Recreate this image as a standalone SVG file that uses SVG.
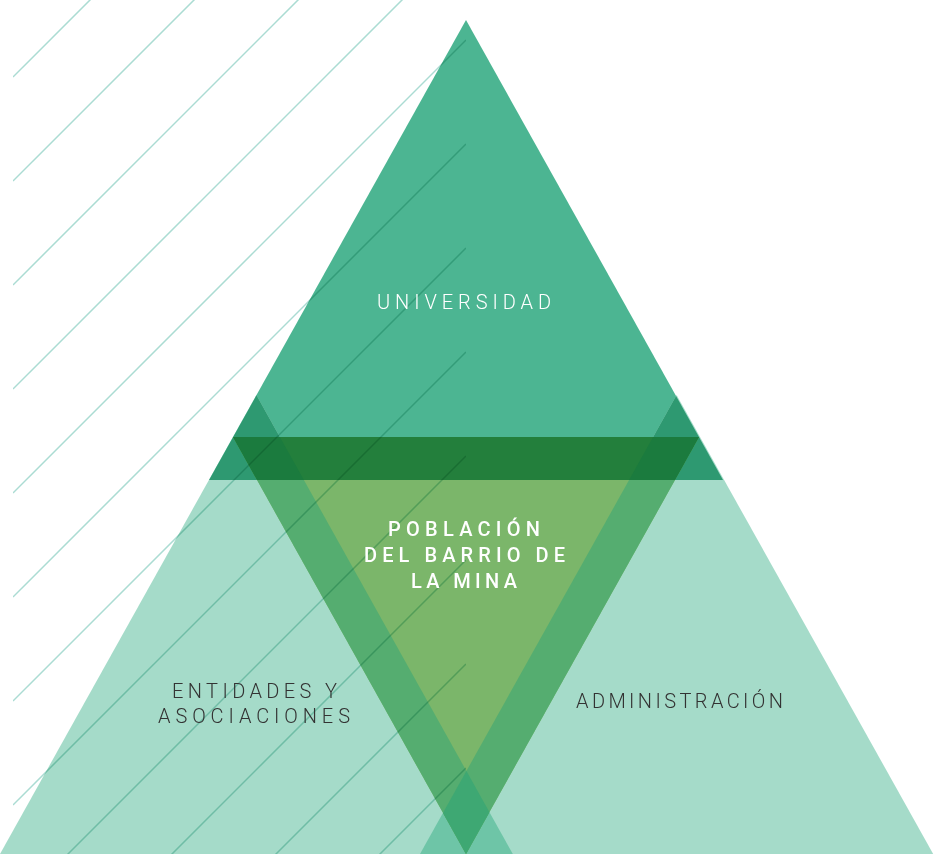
<svg xmlns="http://www.w3.org/2000/svg" width="934" height="854" viewBox="0 0 934 854">
<style>
.lbl{font-family:Roboto,"Liberation Sans",sans-serif;font-size:20px;font-weight:300;}
.light{fill:#333333;}
.white{fill:#ffffff;}
.center{font-family:Roboto,"Liberation Sans",sans-serif;font-size:20px;font-weight:500;fill:#ffffff;}
.hatch line{stroke:#abdcd3;stroke-width:1.5;}
</style>
<defs>
<polygon id="pT" points="466,20 209,480 723,480"/>
<polygon id="pL" points="256.4,395 0,854 512.8,854"/>
<polygon id="pR" points="676.6,395 420,854 933.2,854"/>
<polygon id="pV" points="233,437 699,437 466,854"/>
<clipPath id="cT"><use href="#pT"/></clipPath>
<clipPath id="cL"><use href="#pL"/></clipPath>
<clipPath id="cR"><use href="#pR"/></clipPath>
<clipPath id="cV"><use href="#pV"/></clipPath>
<clipPath id="cH"><rect x="13" y="0" width="453" height="854"/></clipPath>
</defs>
<rect width="934" height="854" fill="#ffffff"/>

<g id="universidad">
<use href="#pT" fill="#4cb592"/>
</g>
<g id="entidades">
<use href="#pL" fill="#a5dbc9"/>
</g>
<g id="administracion">
<use href="#pR" fill="#a5dbc9"/>
</g>
<g id="overlaps">
<use href="#pR" fill="#6ec5a7" clip-path="url(#cL)"/>
<use href="#pL" fill="#2e9971" clip-path="url(#cT)"/>
<use href="#pR" fill="#2e9971" clip-path="url(#cT)"/>
</g>
<g id="poblacion">
<use href="#pV" fill="#7bb66a"/>
<use href="#pL" fill="#55ad70" clip-path="url(#cV)"/>
<use href="#pR" fill="#55ad70" clip-path="url(#cV)"/>
<g clip-path="url(#cV)"><use href="#pR" fill="#3ea873" clip-path="url(#cL)"/></g>
<use href="#pT" fill="#237f3c" clip-path="url(#cV)"/>
<g clip-path="url(#cV)"><use href="#pL" fill="#1b7b3e" clip-path="url(#cT)"/></g>
<g clip-path="url(#cV)"><use href="#pR" fill="#1b7b3e" clip-path="url(#cT)"/></g>
</g>

<g class="hatch" clip-path="url(#cH)" style="mix-blend-mode:multiply">
<line x1="13" y1="77" x2="466" y2="-376"/>
<line x1="13" y1="181" x2="466" y2="-272"/>
<line x1="13" y1="285" x2="466" y2="-168"/>
<line x1="13" y1="389" x2="466" y2="-64"/>
<line x1="13" y1="493" x2="466" y2="40"/>
<line x1="13" y1="597" x2="466" y2="144"/>
<line x1="13" y1="701" x2="466" y2="248"/>
<line x1="13" y1="805" x2="466" y2="352"/>
<line x1="13" y1="909" x2="466" y2="456"/>
<line x1="13" y1="1013" x2="466" y2="560"/>
<line x1="13" y1="1117" x2="466" y2="664"/>
<line x1="13" y1="1221" x2="466" y2="768"/>
</g>

<g id="labels">
<text class="lbl white" x="377" y="309" textLength="174" lengthAdjust="spacing">UNIVERSIDAD</text>
<text class="center" x="388" y="536" textLength="152" lengthAdjust="spacing">POBLACIÓN</text>
<text class="center" x="364" y="562" textLength="201" lengthAdjust="spacing">DEL BARRIO DE</text>
<text class="center" x="411" y="588" textLength="106" lengthAdjust="spacing">LA MINA</text>
<text class="lbl light" x="172" y="698" textLength="165" lengthAdjust="spacing">ENTIDADES Y</text>
<text class="lbl light" x="158" y="723" textLength="192" lengthAdjust="spacing">ASOCIACIONES</text>
<text class="lbl light" x="576" y="708" textLength="207" lengthAdjust="spacing">ADMINISTRACIÓN</text>
</g>
</svg>
